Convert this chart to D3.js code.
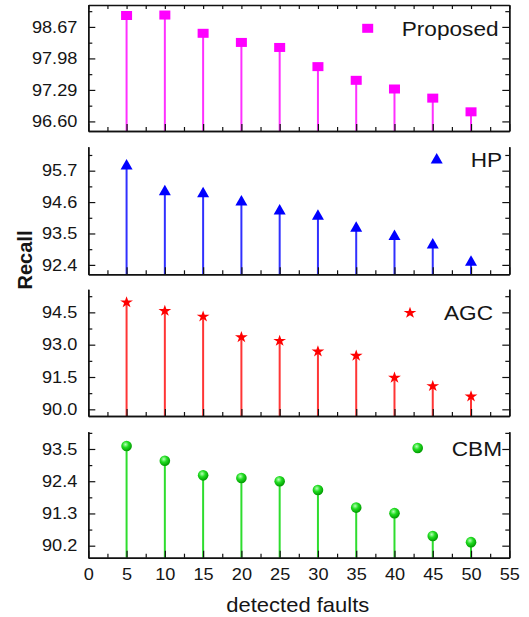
<!DOCTYPE html>
<html>
<head>
<meta charset="utf-8">
<script src="https://cdn.jsdelivr.net/npm/d3@7"></script>
<style>
  body { margin: 0; background: #fff; }
  text { font-family: Arial, "Liberation Sans", sans-serif; fill: #151515; }
</style>
</head>
<body>
<div id="chart"></div>
<script>
{
const width = 529;
const height = 617;
const stretch = 1.1;

// data
const faults = [5, 10, 15, 20, 25, 30, 35, 40, 45, 50];
const proposed = [98.92, 98.93, 98.53, 98.33, 98.22, 97.80, 97.50, 97.31, 97.11, 96.81];
const hp = [95.90, 95.00, 94.93, 94.64, 94.32, 94.14, 93.72, 93.43, 93.13, 92.53];
const agc = [94.99, 94.59, 94.33, 93.37, 93.20, 92.71, 92.51, 91.49, 91.10, 90.62];
const cbm = [93.60, 93.10, 92.60, 92.51, 92.40, 92.10, 91.50, 91.31, 90.53, 90.32];
const seriesNames = ['Proposed', 'HP', 'AGC', 'CBM'];

const proposedTicks = [96.60, 97.29, 97.98, 98.67];
const hpTicks = [92.4, 93.5, 94.6, 95.7];
const agcTicks = [90.0, 91.5, 93.0, 94.5];
const cbmTicks = [90.2, 91.3, 92.4, 93.5];
const xTicks = [0, 5, 10, 15, 20, 25, 30, 35, 40, 45, 50, 55];

const proposedDomain = [96.39, 99.15];
const hpDomain = [92.07, 96.54];
const agcDomain = [89.69, 95.57];
const cbmDomain = [89.79, 94.09];

// layout
const left = 88.3, right = 509.3;
const panels = [
    {name: seriesNames[0], values: proposed, ticks: proposedTicks, domain: proposedDomain, fmt: '.2f',
     top: 5, bottom: 131, color: '#ff00ff', stem: '#ff30ff', shape: 'square', legendX: 367.7, legendY: 28.3, topAxis: true},
    {name: seriesNames[1], values: hp, ticks: hpTicks, domain: hpDomain, fmt: '.1f',
     top: 146.7, bottom: 274.3, color: '#0000ff', stem: '#3030ff', shape: 'triangle', legendX: 436.7, legendY: 159},
    {name: seriesNames[2], values: agc, ticks: agcTicks, domain: agcDomain, fmt: '.1f',
     top: 289.3, bottom: 416, color: '#ff0000', stem: '#ff3535', shape: 'star', legendX: 410, legendY: 312.3},
    {name: seriesNames[3], values: cbm, ticks: cbmTicks, domain: cbmDomain, fmt: '.1f',
     top: 431.7, bottom: 557.7, color: '#11cc11', stem: '#2edd2e', shape: 'ball', legendX: 417.7, legendY: 448, labelsX: true}
];

const svg = d3.select('#chart')
    .append('svg')
    .attr('width', width)
    .attr('height', height);

const defs = svg.append('defs');
const grad = defs.append('radialGradient')
    .attr('id', 'ballGrad')
    .attr('cx', '40%').attr('cy', '35%').attr('r', '65%');
grad.append('stop').attr('offset', '0%').attr('stop-color', '#b8ffb8');
grad.append('stop').attr('offset', '45%').attr('stop-color', '#22dd22');
grad.append('stop').attr('offset', '100%').attr('stop-color', '#009900');

let x = d3.scaleLinear()
    .domain([0, 55])
    .range([left, right]);

const minorX = d3.range(2.5, 55, 5);

function drawMarker(g, shape, color, cx, cy) {
    if (shape === 'square') {
        g.append('rect')
            .attr('x', cx - 5.5).attr('y', cy - 4.5)
            .attr('width', 11).attr('height', 9)
            .attr('fill', color);
    } else if (shape === 'triangle') {
        g.append('path')
            .attr('d', `M${cx},${cy - 6}L${cx + 6},${cy + 4.5}L${cx - 6},${cy + 4.5}Z`)
            .attr('fill', color);
    } else if (shape === 'star') {
        g.append('path')
            .attr('d', d3.symbol().type(d3.symbolStar).size(42)())
            .attr('transform', `translate(${cx},${cy + 0.5}) scale(1.1,1)`)
            .attr('fill', color);
    } else {
        g.append('circle')
            .attr('cx', cx).attr('cy', cy).attr('r', 5.3)
            .attr('fill', 'url(#ballGrad)');
    }
}

function styleAxis(g) {
    g.select('.domain').attr('stroke', '#111').attr('stroke-width', 1.4);
    g.selectAll('.tick line').attr('stroke', '#111').attr('stroke-width', 1.2);
}

panels.forEach(function(p) {
    let y = d3.scaleLinear()
        .domain(p.domain)
        .range([p.bottom, p.top]);

    const step = p.ticks[1] - p.ticks[0];
    let minorY = [];
    for (let v = p.ticks[0] - step / 2; v <= p.domain[1]; v += step) {
        if (v >= p.domain[0]) minorY.push(v);
    }

    let g = svg.append('g');

    // stems
    g.selectAll('line.stem')
        .data(p.values)
        .enter().append('line')
        .attr('class', 'stem')
        .attr('x1', (d, i) => x(faults[i]))
        .attr('x2', (d, i) => x(faults[i]))
        .attr('y1', p.bottom)
        .attr('y2', d => y(d))
        .attr('stroke', p.stem)
        .attr('stroke-width', 2);

    // axes
    let la = g.append('g').attr('transform', `translate(${left},0)`)
        .call(d3.axisLeft(y).tickValues(p.ticks).tickFormat(d3.format(p.fmt))
            .tickSizeInner(-7).tickSizeOuter(0).tickPadding(11));
    la.selectAll('text')
        .style('font-size', '16.5px')
        .attr('transform', `scale(${stretch},1)`)
        .attr('x', -11 / stretch);
    styleAxis(la);
    let lm = g.append('g').attr('transform', `translate(${left},0)`)
        .call(d3.axisLeft(y).tickValues(minorY).tickFormat('').tickSizeInner(-4).tickSizeOuter(0));
    styleAxis(lm);

    let ra = g.append('g').attr('transform', `translate(${right},0)`)
        .call(d3.axisRight(y).tickValues(p.ticks).tickFormat('').tickSizeInner(-7).tickSizeOuter(0));
    styleAxis(ra);
    let rm = g.append('g').attr('transform', `translate(${right},0)`)
        .call(d3.axisRight(y).tickValues(minorY).tickFormat('').tickSizeInner(-4).tickSizeOuter(0));
    styleAxis(rm);

    let ba = g.append('g').attr('transform', `translate(0,${p.bottom})`)
        .call(d3.axisBottom(x).tickValues(xTicks).tickSizeInner(-7).tickSizeOuter(0).tickPadding(11)
            .tickFormat(p.labelsX ? d3.format('d') : ''));
    ba.selectAll('text')
        .style('font-size', '16.5px')
        .attr('transform', `scale(${stretch},1)`)
        .attr('x', 0);
    ba.selectAll('.tick').each(function(d) {
        d3.select(this).select('text').attr('transform', null)
            .attr('transform', `scale(${stretch},1)`);
    });
    styleAxis(ba);
    // shift labels since scale is about tick origin (x = 0 in tick group), fine
    let bm = g.append('g').attr('transform', `translate(0,${p.bottom})`)
        .call(d3.axisBottom(x).tickValues(minorX).tickFormat('').tickSizeInner(-4).tickSizeOuter(0));
    styleAxis(bm);

    if (p.topAxis) {
        let ta = g.append('g').attr('transform', `translate(0,${p.top})`)
            .call(d3.axisTop(x).tickValues(xTicks.concat(minorX)).tickFormat('').tickSizeInner(-4).tickSizeOuter(0));
        styleAxis(ta);
    }

    // markers
    p.values.forEach(function(v, i) {
        drawMarker(g, p.shape, p.color, x(faults[i]), y(v));
    });

    // legend
    drawMarker(g, p.shape, p.color, p.legendX, p.legendY);
    g.append('text')
        .attr('transform', `translate(${p.legendX + 34},${p.legendY + 7.5}) scale(${stretch * 0.98},1)`)
        .style('font-size', '21px')
        .text(p.name);
});

// axis titles
svg.append('text')
    .attr('transform', `translate(${(left + right) / 2 - 1},611.5) scale(${stretch},1)`)
    .style('text-anchor', 'middle')
    .style('font-size', '20px')
    .text('detected faults');

svg.append('text')
    .attr('transform', 'translate(31.5,260) rotate(-90)')
    .style('text-anchor', 'middle')
    .style('font-size', '20px')
    .style('font-weight', 'bold')
    .text('Recall');
}
</script>
</body>
</html>
